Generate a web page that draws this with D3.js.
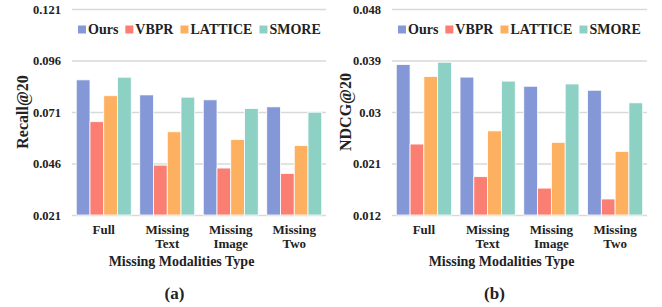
<!DOCTYPE html>
<html>
<head>
<meta charset="utf-8">
<title>missing modalities</title>
<style>
    body { margin: 0; background: #fff; }
    svg text {
        font-family: "Liberation Serif", "Times New Roman", serif;
        font-weight: bold;
        fill: #222;
    }
    .grid line { stroke: #d9d9d9; stroke-width: 1.3; }
    .grid text { font-size: 12.5px; }
    rect.bar { stroke: #fff; stroke-width: 0.8; }
</style>
</head>
<body>
<svg id="chart" width="662" height="307"></svg>
<script src="https://cdn.jsdelivr.net/npm/d3@7"></script>
<script>
// data
var categories = ["Full", "Missing Text", "Missing Image", "Missing Two"];
var methods = ["Ours", "VBPR", "LATTICE", "SMORE"];
var colors = ["#8497d6", "#fa7f72", "#fcb060", "#8dd1c4"];

var recallOurs    = [0.0866, 0.0793, 0.0769, 0.0735];
var recallVBPR    = [0.0663, 0.0452, 0.0438, 0.0412];
var recallLATTICE = [0.0789, 0.0614, 0.0576, 0.0547];
var recallSMORE   = [0.0879, 0.0782, 0.0727, 0.0709];
var recallTicks   = [0.021, 0.046, 0.071, 0.096, 0.121];

var ndcgOurs    = [0.0383, 0.0361, 0.0345, 0.0338];
var ndcgVBPR    = [0.0244, 0.0187, 0.0167, 0.0148];
var ndcgLATTICE = [0.0362, 0.0267, 0.0247, 0.0231];
var ndcgSMORE   = [0.0387, 0.0354, 0.0349, 0.0316];
var ndcgTicks   = [0.012, 0.021, 0.03, 0.039, 0.048];

var svg = d3.select("#chart");

function drawPanel(p) {
    var top = 9, bottom = 215;
    var g = svg.append("g");

    var x = d3.scaleBand().domain(categories)
        .range([p.left, p.right]).paddingInner(0.134).paddingOuter(0.067);
    var x1 = d3.scaleBand().domain(methods).range([0, x.bandwidth()]);
    var y = d3.scaleLinear().domain([p.ticks[0], p.ticks[p.ticks.length - 1]])
        .range([bottom, top]);

    // gridlines + tick labels
    var ax = g.append("g").attr("class", "grid")
        .attr("transform", "translate(" + p.left + ",0)")
        .call(d3.axisLeft(y).tickValues(p.ticks).tickFormat(function(d) { return d; })
            .tickSize(-(p.right - p.left)).tickPadding(11));
    ax.select(".domain").remove();

    // bars
    var rows = [];
    categories.forEach(function(c, i) {
        methods.forEach(function(m, j) {
            rows.push({ cat: c, m: m, j: j, v: p.series[j][i] });
        });
    });
    g.selectAll("rect.bar").data(rows).enter().append("rect")
        .attr("class", "bar")
        .attr("x", function(d) { return x(d.cat) + x1(d.m); })
        .attr("y", function(d) { return y(d.v); })
        .attr("width", x1.bandwidth())
        .attr("height", function(d) { return bottom - y(d.v); })
        .attr("fill", function(d) { return colors[d.j]; });

    // category labels (two lines)
    categories.forEach(function(c) {
        var words = c.split(" ");
        var t = g.append("text").attr("text-anchor", "middle").style("font-size", "13px");
        words.forEach(function(w, k) {
            t.append("tspan").attr("x", x(c) + x.bandwidth() / 2)
                .attr("y", 234 + k * 14).text(w);
        });
    });

    // legend
    var lx = p.left + 6;
    methods.forEach(function(m, j) {
        g.append("rect").attr("x", lx).attr("y", 25.5).attr("width", 8).attr("height", 8)
            .attr("fill", colors[j]);
        var t = g.append("text").attr("x", lx + 10).attr("y", 33.5)
            .style("font-size", "14px").text(m);
        lx += 10 + t.node().getComputedTextLength() + 7;
    });

    // titles
    g.append("text").attr("text-anchor", "middle")
        .attr("transform", "translate(" + p.ytitleX + "," + (top + bottom) / 2 + ") rotate(-90)")
        .attr("dy", "0.35em")
        .style("font-size", "16px").text(p.ytitle);
    g.append("text").attr("text-anchor", "middle")
        .attr("x", p.left + 109.5).attr("y", 266)
        .style("font-size", "14px").text("Missing Modalities Type");
    g.append("text").attr("text-anchor", "middle")
        .attr("x", p.left + 102.5).attr("y", 298.5)
        .style("font-size", "17px").text(p.label);
}

drawPanel({
    left: 72, right: 326, ytitleX: 22, ytitle: "Recall@20", label: "(a)",
    ticks: recallTicks,
    series: [recallOurs, recallVBPR, recallLATTICE, recallSMORE]
});
drawPanel({
    left: 392, right: 647, ytitleX: 345, ytitle: "NDCG@20", label: "(b)",
    ticks: ndcgTicks,
    series: [ndcgOurs, ndcgVBPR, ndcgLATTICE, ndcgSMORE]
});
</script>
</body>
</html>
